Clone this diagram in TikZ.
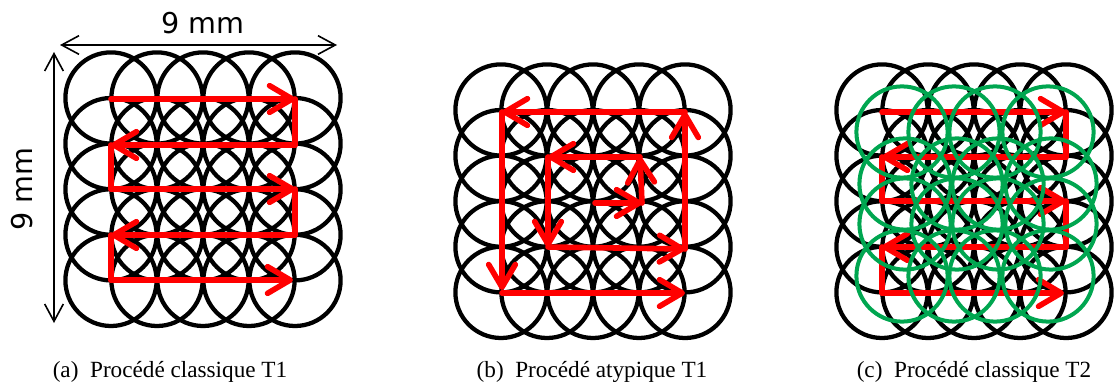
\documentclass[tikz,border=0pt]{standalone}
\usepackage{fontspec}
\setmainfont{Liberation Serif}
\newfontfamily\dimfont{DejaVu Sans}
\usetikzlibrary{arrows.meta,positioning}
\tikzset{
  spot/.style={line width=3.2pt,black},
  greenspot/.style={line width=3pt,color={rgb,255:red,0;green,166;blue,80}},
  scanline/.style={line width=4.2pt,red,line cap=round,line join=miter},
  scanarrow/.style={scanline,-{Straight Barb[length=17pt,width=20pt,line width=4.2pt,round]}},
  dimline/.style={line width=1.2pt,{Straight Barb[length=13pt,width=14pt,line width=1.2pt]}-{Straight Barb[length=13pt,width=14pt,line width=1.2pt]}},
  caption/.style={font=\fontsize{17.4pt}{20pt}\selectfont,anchor=base},
  dimlabel/.style={font=\fontsize{21.5pt}{24pt}\dimfont}
}
\begin{document}
\begin{tikzpicture}[x=.75pt,y=-.75pt]
\useasboundingbox (0,0) rectangle (1114,385);
% spot grids
\foreach \ox/\oy in {111/98,501/110,882/110}
  \foreach \i in {0,...,4}
    \foreach \j in {0,...,4}
      \draw[spot] (\ox+46*\i,\oy+45.6*\j) circle (34.2pt);
% (a) scan path
\coordinate (a1) at (111,99);
\coordinate (a2) at (295,99);
\coordinate (a3) at (295,145);
\coordinate (a4) at (111,145);
\coordinate (a5) at (111,189);
\coordinate (a6) at (295,189);
\coordinate (a7) at (295,235);
\coordinate (a8) at (111,235);
\coordinate (a9) at (111,280);
\coordinate (a10) at (293,280);
\draw[scanline] (a2)--(a3) (a4)--(a5) (a6)--(a7) (a8)--(a9);
\draw[scanarrow] (a1)--(a2);
\draw[scanarrow] (a3)--(a4);
\draw[scanarrow] (a5)--(a6);
\draw[scanarrow] (a7)--(a8);
\draw[scanarrow] (a9)--(a10);
% (b) spiral path
\coordinate (b1) at (595,203);
\coordinate (b2) at (642,203);
\coordinate (b3) at (640,157);
\coordinate (b4) at (548,157);
\coordinate (b5) at (548,247);
\coordinate (b6) at (685,249);
\coordinate (b7) at (685,112);
\coordinate (b8) at (502,112);
\coordinate (b9) at (502,290);
\coordinate (b10) at (502,293);
\coordinate (b11) at (685,293);
\draw[scanarrow] (b1)--(b2);
\draw[scanarrow] (b2)--(b3);
\draw[scanarrow] (b3)--(b4);
\draw[scanarrow] (b4)--(b5);
\draw[scanarrow] (b5)--(b6);
\draw[scanarrow] (b6)--(b7);
\draw[scanarrow] (b7)--(b8);
\draw[scanarrow] (b8)--(b9);
\draw[scanarrow] (b10)--(b11);
% (c) scan path
\coordinate (c1) at (882,112);
\coordinate (c2) at (1066,112);
\coordinate (c3) at (1066,157);
\coordinate (c4) at (882,157);
\coordinate (c5) at (882,201);
\coordinate (c6) at (1066,201);
\coordinate (c7) at (1066,247);
\coordinate (c8) at (882,247);
\coordinate (c9) at (882,293);
\coordinate (c10) at (1064,293);
\draw[scanline] (c2)--(c3) (c4)--(c5) (c6)--(c7) (c8)--(c9);
\draw[scanarrow] (c1)--(c2);
\draw[scanarrow] (c3)--(c4);
\draw[scanarrow] (c5)--(c6);
\draw[scanarrow] (c7)--(c8);
\draw[scanarrow] (c9)--(c10);
% (c) second pass spots
\foreach \gy/\shift in {132/0,184/3,224/3,276/0}
  \foreach \gx in {902,954,995,1048}
    \draw[greenspot] (\gx+\shift,\gy) circle (34.2pt);
% dimensions
\coordinate (dimw) at (60,45);
\coordinate (dime) at (337,45);
\coordinate (dimn) at (54,52);
\coordinate (dims) at (54,323);
\draw[dimline] (dimw)--(dime);
\draw[dimline] (dimn)--(dims);
\node[dimlabel] (widthlabel) at (203,23) {9 mm};
\node[dimlabel,rotate=90] (heightlabel) at (22,189) {9 mm};
% captions
\node[caption] (capa) at (170,377) {(a)\hspace{.5em}Procédé classique T1};
\node[caption] (capb) at (592,377) {(b)\hspace{.5em}Procédé atypique T1};
\node[caption] (capc) at (974,377) {(c)\hspace{.5em}Procédé classique T2};
\end{tikzpicture}
\end{document}
